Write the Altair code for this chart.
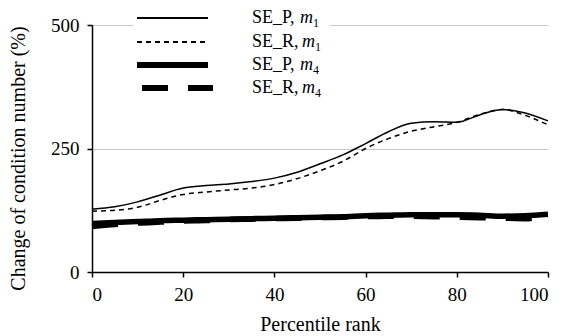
import altair as alt
import pandas as pd

FONT = "Liberation Serif"

rank = [0, 5, 10, 15, 20, 25, 30, 35, 40, 45, 50, 55, 60, 65, 70, 75, 80, 85, 90, 95, 100]
se_p_m1 = [127, 132, 142, 156, 170, 175, 178, 183, 190, 202, 219, 237, 260, 284, 301, 304, 303, 318, 329, 322, 306]
se_r_m1 = [123, 125, 131, 145, 157, 162, 166, 170, 177, 189, 205, 224, 250, 270, 285, 294, 303, 319, 329, 317, 298]
se_p_m4 = [98, 100, 102, 104, 105, 106, 107, 108, 109, 110, 111, 112, 114, 115, 116, 116, 116, 115, 113, 114, 117]
se_r_m4 = [92, 96, 99, 101, 103, 104, 106, 107, 108, 109, 110, 111, 112, 113, 113, 112, 111, 110, 109, 108, 117]

series_names = ["SE_P_m1", "SE_R_m1", "SE_P_m4", "SE_R_m4"]
legend_base = ["SE_P,", "SE_R,", "SE_P,", "SE_R,"]
legend_sub = ["1", "1", "4", "4"]

rows = []
for name, vals in zip(series_names, [se_p_m1, se_r_m1, se_p_m4, se_r_m4]):
    for r, v in zip(rank, vals):
        rows.append({"rank": r, "value": v, "series": name})
df = pd.DataFrame(rows)

styles = {
    "SE_P_m1": dict(strokeWidth=1.5),
    "SE_R_m1": dict(strokeWidth=1.5, strokeDash=[5, 4]),
    "SE_P_m4": dict(strokeWidth=5.5),
    "SE_R_m4": dict(strokeWidth=5.5, strokeDash=[26, 20]),
}

x_enc = alt.X("rank:Q", scale=alt.Scale(domain=[0, 100], nice=False),
              axis=alt.Axis(values=[0, 20, 40, 60, 80, 100], title="Percentile rank",
                            grid=False, labelPadding=8, titlePadding=10))
y_enc = alt.Y("value:Q", scale=alt.Scale(domain=[0, 500], nice=False),
              axis=alt.Axis(values=[0, 250, 500], title="Change of condition number (%)",
                            grid=True, labelPadding=8, titlePadding=22, titleY=133))

base = alt.Chart(df)
layers = []
order = ["SE_R_m4", "SE_P_m4", "SE_R_m1", "SE_P_m1"]
for name in order:
    layers.append(
        base.transform_filter(alt.datum.series == name)
        .mark_line(color="black", interpolate="monotone", **styles[name])
        .encode(x=x_enc, y=y_enc)
    )

# white backing for legend (hides gridline like original)
legend_layers = [base.mark_rect(color="white").encode(
    x=alt.value(41), x2=alt.value(238), y=alt.value(-14), y2=alt.value(75))]

row_y = [-7, 17, 40, 63]
line_x = [(45, 116), (45, 116), (45, 116), (50, 121)]
text_x = 160
for i, name in enumerate(series_names):
    st = styles[name]
    legend_layers.append(base.mark_rule(color="black", **st).encode(
        x=alt.value(line_x[i][0]), x2=alt.value(line_x[i][1]), y=alt.value(row_y[i])))
    ldf = pd.DataFrame({"t": [legend_base[i]], "s": [legend_sub[i]]})
    lc = alt.Chart(ldf)
    legend_layers.append(lc.mark_text(font=FONT, fontSize=18, align="left", baseline="middle", color="black").encode(
        x=alt.value(text_x), y=alt.value(row_y[i]), text="t:N"))
    mx = text_x + (50 if legend_base[i].startswith("SE_R") else 48)
    legend_layers.append(lc.mark_text(font=FONT, fontSize=18, fontStyle="italic", align="left",
                                      baseline="middle", color="black").encode(
        x=alt.value(mx), y=alt.value(row_y[i]), text=alt.value("m")))
    legend_layers.append(lc.mark_text(font=FONT, fontSize=12, align="left", baseline="middle", color="black").encode(
        x=alt.value(mx + 13), y=alt.value(row_y[i] + 5), text="s:N"))

chart = alt.layer(*layers, *legend_layers).properties(
    width=456, height=247,
    padding={"left": 92, "top": 25, "right": 18, "bottom": 64},
    autosize="none",
).configure_view(strokeWidth=0).configure_axis(
    labelFont=FONT, titleFont=FONT, labelFontSize=19, titleFontSize=20,
    labelColor="black", titleColor="black", titleFontWeight="normal",
    domainColor="black", tickColor="black", domainWidth=1.5, tickWidth=1.5,
    tickSize=5, gridColor="#c8c8c8", gridWidth=1,
)

chart.save("out.html", embed_options={"renderer": "svg", "actions": False})
